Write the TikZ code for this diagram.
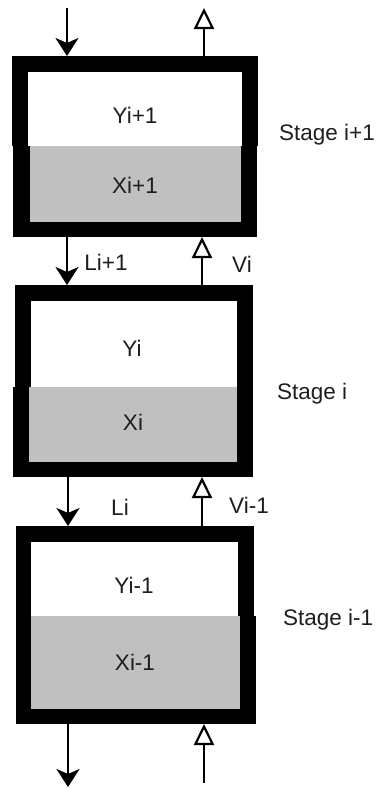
\documentclass[tikz,border=0pt]{standalone}
\usepackage{fontspec}
\setmainfont{Liberation Sans}
\usetikzlibrary{arrows.meta}
\definecolor{liq}{RGB}{192,192,192}
\definecolor{ink}{RGB}{30,30,30}
\begin{document}
\begin{tikzpicture}[x=1pt,y=-1pt,
  lbl/.style={font=\fontsize{22.5}{26}\selectfont, text=ink, inner sep=0pt, anchor=base},
  stagelbl/.style={lbl, anchor=base west},
  frame/.style={fill=black},
  liquid/.style={fill=liq},
  vapour/.style={fill=white},
  downflow/.style={line width=2.2pt, -{Stealth[length=18pt,width=23pt,inset=5pt]}},
  upflow/.style={line width=2.2pt, -{Triangle[open,length=21pt,width=20pt,fill=white]}}
]
\useasboundingbox (0,0) rectangle (377,790);

% Stage i+1
\fill[frame] (12,56) rectangle (258,146);
\fill[frame] (13,146) rectangle (257,237);
\fill[vapour] (28,72) rectangle (242,146);
\fill[liquid] (30,146) rectangle (241,222);

% Stage i
\fill[frame] (15,285) rectangle (253,387);
\fill[frame] (13,387) rectangle (253,477);
\fill[vapour] (31,301) rectangle (237,387);
\fill[liquid] (29,387) rectangle (237,462);

% Stage i-1
\fill[frame] (16,526) rectangle (254,616);
\fill[frame] (16,616) rectangle (256,724);
\fill[vapour] (31,542) rectangle (238,616);
\fill[liquid] (31,616) rectangle (240,709);

% texts
\node[lbl] (y3) at (135,123) {Yi+1};
\node[lbl] (x3) at (135,193) {Xi+1};
\node[lbl] (y2) at (132,356) {Yi};
\node[lbl] (x2) at (133,430) {Xi};
\node[lbl] (y1) at (134,593) {Yi-1};
\node[lbl] (x1) at (135,670) {Xi-1};
\node[stagelbl] (s3) at (279,140) {Stage i+1};
\node[stagelbl] (s2) at (277,399) {Stage i};
\node[stagelbl] (s1) at (283,625) {Stage i-1};
\node[lbl] (l3) at (106,270) {Li+1};
\node[lbl] (v2) at (242,272) {Vi};
\node[lbl] (l2) at (120,515) {Li};
\node[lbl] (v1) at (249,513) {Vi-1};

% connector end points
\coordinate (feedL) at (67,8);
\coordinate (top3L) at (67,56);
\coordinate (top3V) at (204,56);
\coordinate (outV) at (204,8);
\coordinate (bot3L) at (67,237);
\coordinate (top2L) at (67,285);
\coordinate (top2V) at (202,285);
\coordinate (bot3V) at (202,237);
\coordinate (bot2L) at (68,477);
\coordinate (top1L) at (68,526);
\coordinate (top1V) at (202,526);
\coordinate (bot2V) at (202,477);
\coordinate (bot1L) at (68,724);
\coordinate (outL) at (68,787);
\coordinate (inV) at (204,783);
\coordinate (bot1V) at (204,724);

\draw[downflow] (feedL) -- (top3L);
\draw[upflow] (top3V) -- (outV);
\draw[downflow] (bot3L) -- (top2L);
\draw[upflow] (top2V) -- (bot3V);
\draw[downflow] (bot2L) -- (top1L);
\draw[upflow] (top1V) -- (bot2V);
\draw[downflow] (bot1L) -- (outL);
\draw[upflow] (inV) -- (bot1V);
\end{tikzpicture}
\end{document}
